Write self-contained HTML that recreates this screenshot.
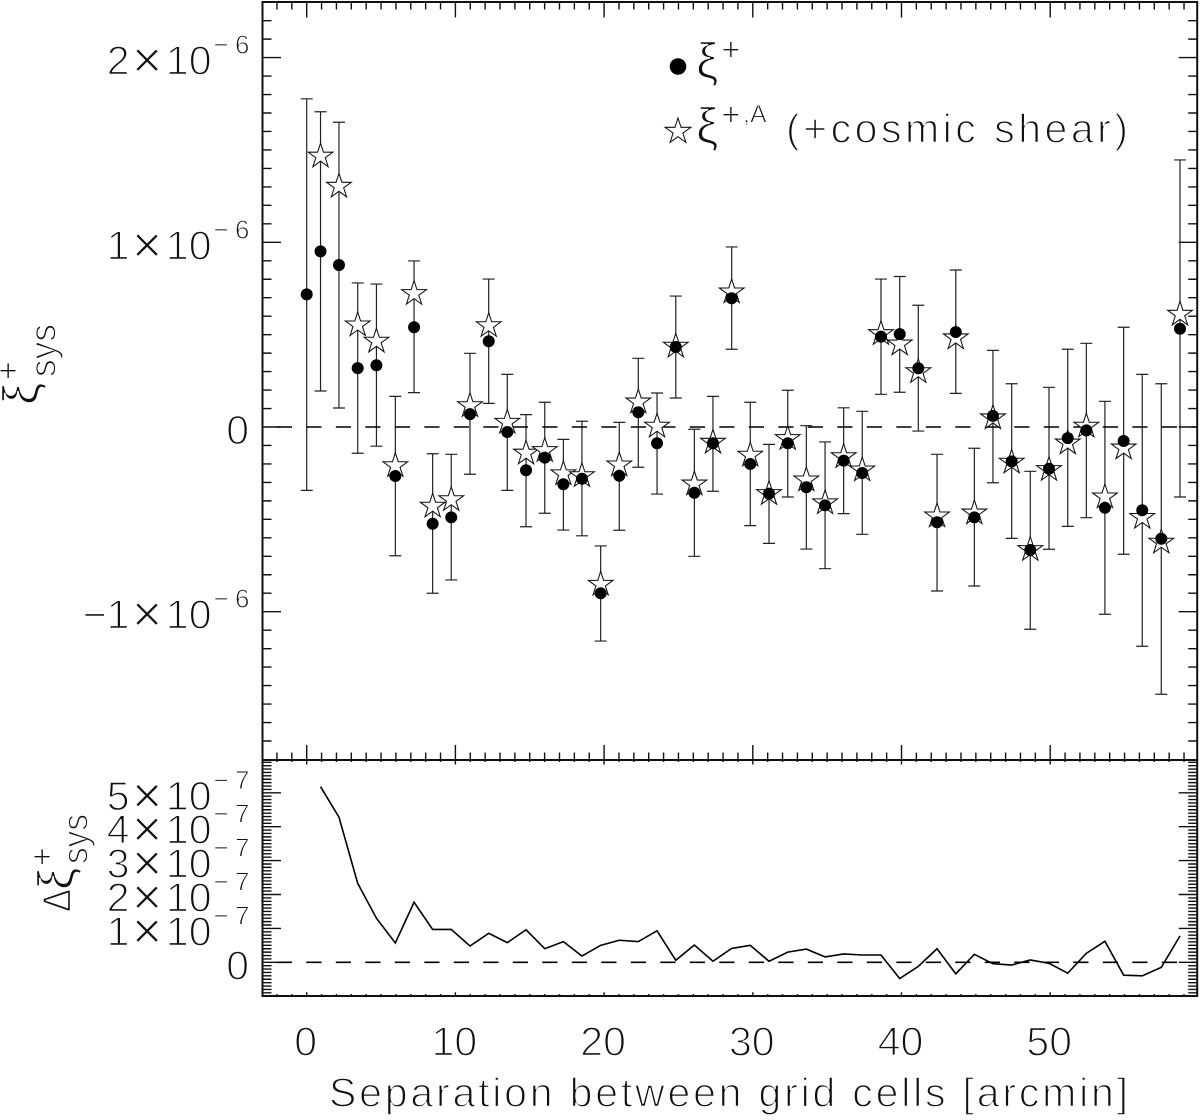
<!DOCTYPE html>
<html lang="en">
<head>
<meta charset="utf-8">
<title>Separation between grid cells chart</title>
<style>
html,body{margin:0;padding:0;background:#fff;width:1200px;height:1120px;overflow:hidden}
svg{display:block}
text{font-family:"Liberation Sans",sans-serif;fill:#111;stroke:#fff;stroke-width:1.4px}
.small{stroke-width:0.9px}
</style>
</head>
<body>
<svg id="chart" xmlns="http://www.w3.org/2000/svg" width="1200" height="1120" viewBox="0 0 1200 1120">
  <rect width="1200" height="1120" fill="#fff"/>
  <g id="errs"></g>
  <g id="dash"></g>
  <g id="stars"></g>
  <g id="dots"></g>
  <g id="delta"></g>
  <g id="axes"></g>
  <g id="labels"></g>

  <g>
    <circle cx="678" cy="66.5" r="8.3" fill="#000"/>
    <text x="696" y="78" font-size="50">ξ</text>
    <text x="721.5" y="60.5" font-size="32" class="small">+</text>
    <polygon id="legendStar" fill="#fff" stroke="#111" stroke-width="1.05"/>
    <text x="696" y="143" font-size="50">ξ</text>
    <text x="721.5" y="125.5" font-size="32" class="small">+</text>
    <text x="743" y="122.5" font-size="25" class="small">,A</text>
    <text x="786" y="142.5" font-size="41" textLength="342" lengthAdjust="spacing">(+cosmic shear)</text>
  </g>

  <g>
    <text transform="translate(38,405) rotate(-90)" font-size="50">ξ</text>
    <text transform="translate(19,380) rotate(-90)" font-size="32" class="small">+</text>
    <text transform="translate(55.5,377) rotate(-90)" font-size="37" textLength="53" lengthAdjust="spacingAndGlyphs">sys</text>
  </g>
  <g>
    <text transform="translate(70.5,912) rotate(-90)" font-size="40" textLength="23" lengthAdjust="spacingAndGlyphs">Δ</text>
    <text transform="translate(73,890) rotate(-90)" font-size="50">ξ</text>
    <text transform="translate(53,866) rotate(-90)" font-size="32" class="small">+</text>
    <text transform="translate(87.5,864) rotate(-90)" font-size="36" textLength="50" lengthAdjust="spacingAndGlyphs">sys</text>
  </g>
  <text x="329" y="1106.5" font-size="41" textLength="799" lengthAdjust="spacing">Separation between grid cells [arcmin]</text>
</svg>
<script>
// Separation in arcmin
const separation = [0,0.93,2.17,3.43,4.69,5.96,7.22,8.47,9.72,10.98,12.24,13.49,14.75,16.01,17.26,18.51,19.77,21.02,22.30,23.56,24.82,26.07,27.32,28.58,29.83,31.09,32.35,33.60,34.86,36.11,37.36,38.62,39.88,41.13,42.39,43.65,44.90,46.15,47.41,48.66,49.92,51.18,52.43,53.68,54.94,56.19,57.47,58.73];
// xi+ (units of 1e-6)
const xiPlus = [0.718,0.951,0.877,0.319,0.334,-0.265,0.540,-0.524,-0.489,0.070,0.464,-0.027,-0.234,-0.166,-0.310,-0.280,-0.900,-0.264,0.080,-0.088,0.433,-0.356,-0.088,0.697,-0.200,-0.361,-0.088,-0.326,-0.424,-0.182,-0.249,0.489,0.503,0.318,-0.516,0.514,-0.489,0.060,-0.186,-0.666,-0.226,-0.060,-0.018,-0.437,-0.076,-0.451,-0.605,0.532];
// Upper / lower ends of error bars (units of 1e-6)
const errHigh = [1.777,1.707,1.650,0.780,0.774,0.166,0.899,-0.145,-0.148,0.399,0.801,0.285,0.067,0.134,-0.067,0.031,-0.644,0.025,0.372,0.184,0.709,-0.012,0.166,0.975,0.134,-0.094,0.199,0.007,-0.081,0.104,0.085,0.801,0.815,0.659,-0.148,0.850,-0.115,0.415,0.234,-0.240,0.215,0.421,0.453,0.139,0.540,0.285,0.234,1.446];
const errLow = [-0.343,0.195,0.103,-0.142,-0.104,-0.697,0.186,-0.900,-0.828,-0.256,0.128,-0.343,-0.540,-0.467,-0.558,-0.589,-1.159,-0.559,-0.218,-0.363,0.157,-0.700,-0.348,0.421,-0.534,-0.630,-0.379,-0.661,-0.767,-0.469,-0.581,0.177,0.188,-0.022,-0.888,0.182,-0.861,-0.302,-0.603,-1.095,-0.662,-0.538,-0.491,-1.014,-0.689,-1.187,-1.447,-0.379];
// xi+,A (units of 1e-6); no value in the first bin
const xiPlusA = [null,1.466,1.303,0.552,0.464,-0.210,0.722,-0.429,-0.394,0.115,0.548,0.025,-0.142,-0.128,-0.254,-0.264,-0.852,-0.206,0.135,0.004,0.437,-0.309,-0.083,0.731,-0.153,-0.361,-0.063,-0.287,-0.411,-0.161,-0.233,0.505,0.449,0.299,-0.482,0.482,-0.466,0.049,-0.191,-0.664,-0.231,-0.087,0.004,-0.379,-0.114,-0.490,-0.624,0.610];
// Delta xi (units of 1e-7); no value in the first bin
const deltaXi = [null,5.18,4.28,2.33,1.30,0.57,1.77,0.97,0.97,0.48,0.855,0.58,0.96,0.40,0.61,0.185,0.50,0.65,0.61,0.93,0.06,0.51,0.03,0.41,0.50,0.03,0.30,0.39,0.16,0.245,0.215,0.215,-0.48,-0.12,0.40,-0.34,0.235,-0.04,-0.08,0.07,-0.03,-0.32,0.265,0.62,-0.38,-0.40,-0.15,0.78];
// Tick labels
const xTickValues = [0,10,20,30,40,50];
const topTickValues = [2,1,0,-1];
const topTickLabels = ['2','1','0','−1'];
const topExponent = '−6';
const bottomTickValues = [5,4,3,2,1,0];
const bottomTickLabels = ['5','4','3','2','1','0'];
const bottomExponent = '−7';

const NS = 'http://www.w3.org/2000/svg';
const L = 262.5, R = 1197.2, T = 2, M = 760, B = 996;
function xS(v){ return 306.7 + 14.87 * v; }
function yTop(v){ return 427 - 184.7 * v; }
function yBot(v){ return 962.3 - 33.9 * v; }
function mk(tag, attrs, parent){
  const n = document.createElementNS(NS, tag);
  for (const k in attrs) n.setAttribute(k, attrs[k]);
  parent.appendChild(n);
  return n;
}
function starPts(cx, cy, r){
  const p = [];
  for (let i = 0; i < 10; i++){
    const rad = i % 2 ? r * 0.382 : r;
    const a = -Math.PI / 2 + i * Math.PI / 5;
    p.push((cx + rad * Math.cos(a)).toFixed(2) + ',' + (cy + rad * Math.sin(a)).toFixed(2));
  }
  return p.join(' ');
}
const g = id => document.getElementById(id);
g('legendStar').setAttribute('points', starPts(678, 131.5, 13.5));

// Error bars
separation.forEach((x, i) => {
  const px = xS(x), hi = yTop(errHigh[i]), lo = yTop(errLow[i]);
  const el = mk('path', {d:`M${px} ${hi}V${lo}M${px-6} ${hi}H${px+6}M${px-6} ${lo}H${px+6}`, fill:'none', stroke:'#222', 'stroke-width':1.2}, g('errs'));
  
  
});

// Zero dashed lines
[yTop(0), yBot(0)].forEach(y => {
  const el = mk('line', {x1:L, x2:R, y1:y, y2:y, stroke:'#000', 'stroke-width':1.6, 'stroke-dasharray':'15.2 14.3', 'stroke-dashoffset':'-14.3'}, g('dash'));
  
  
});

// Stars
separation.forEach((x, i) => {
  if (xiPlusA[i] === null) return;
  const el = mk('polygon', {points:starPts(xS(x), yTop(xiPlusA[i]), 13), fill:'#fff', stroke:'#111', 'stroke-width':1.05}, g('stars'));
  
  
});

// Circles
separation.forEach((x, i) => {
  const el = mk('circle', {cx:xS(x), cy:yTop(xiPlus[i]), r:6, fill:'#000'}, g('dots'));
  
  
});

// Delta line
const deltaPts = [];
separation.forEach((x, i) => {
  if (deltaXi[i] !== null) deltaPts.push(xS(x).toFixed(2) + ',' + yBot(deltaXi[i]).toFixed(2));
});
const deltaLine = mk('polyline', {points:deltaPts.join(' '), fill:'none', stroke:'#000', 'stroke-width':1.6}, g('delta'));



// Axes frames
const frameTop = mk('rect', {x:L, y:T, width:R-L, height:M-T, fill:'none', stroke:'#111', 'stroke-width':2}, g('axes'));


const frameBottom = mk('rect', {x:L, y:M, width:R-L, height:B-M, fill:'none', stroke:'#111', 'stroke-width':2}, g('axes'));



// Ticks
let dx = '', dyT = '', dyB = '';
for (let v = -2; v <= 59; v++){
  const maj = v % 10 === 0, p = xS(v);
  dx += `M${p} ${T}V${T + (maj ? 15.5 : 7.5)}`;
  dx += `M${p} ${M}V${M - (maj ? 15 : 7.5)}`;
  dx += `M${p} ${M}V${M + (maj ? 4.5 : 2)}`;
  dx += `M${p} ${B}V${B - (maj ? 3.8 : 2)}`;
}
for (let v = -17; v <= 22; v++){
  const p = yTop(v / 10), len = v % 10 === 0 ? 18.5 : 9;
  dyT += `M${L} ${p}h${len}M${R} ${p}h${-len}`;
}
for (let v = -9; v <= 59; v++){
  const p = yBot(v / 10), len = v % 10 === 0 ? 18.5 : 9;
  dyB += `M${L} ${p}h${len}M${R} ${p}h${-len}`;
}
const tickX = mk('path', {d:dx, fill:'none', stroke:'#111', 'stroke-width':1.4}, g('axes'));


const tickTop = mk('path', {d:dyT, fill:'none', stroke:'#111', 'stroke-width':1.4}, g('axes'));


const tickBot = mk('path', {d:dyB, fill:'none', stroke:'#111', 'stroke-width':1.4}, g('axes'));



// Tick labels
function txt(s, attrs, small){
  const t = mk('text', attrs, g('labels'));
  t.textContent = s;
  if (small) t.setAttribute('class', 'small');
  
  
  return t;
}
xTickValues.forEach(v => {
  txt(String(v), {x:xS(v) - 1, y:1055.6, 'font-size':41, 'text-anchor':'middle'});
});
function yLabel(label, py, exp){
  const base = py + 17;
  if (label === '0'){
    txt(label, {x:249, y:base, 'font-size':41, 'text-anchor':'end'});
    return;
  }
  txt(label, {x:129.5, y:base, 'font-size':41, 'text-anchor':'end'});
  txt('×', {x:147, y:base + 3, 'font-size':52, 'text-anchor':'middle'});
  txt('10', {x:211.5, y:base, 'font-size':41, 'text-anchor':'end'});
  txt(exp, {x:213.5, y:py - 4, 'font-size':26, textLength:36, lengthAdjust:'spacing'}, true);
}
topTickValues.forEach((v, i) => yLabel(topTickLabels[i], yTop(v), topExponent));
bottomTickValues.forEach((v, i) => yLabel(bottomTickLabels[i], yBot(v), bottomExponent));
</script>
</body>
</html>
